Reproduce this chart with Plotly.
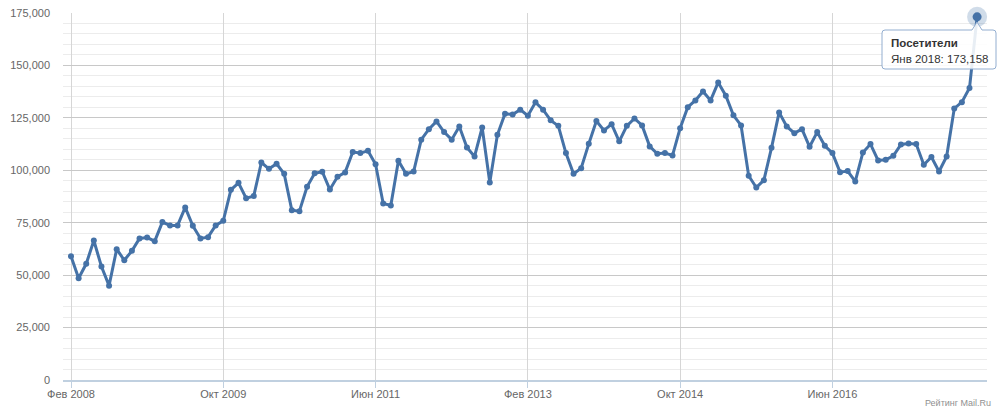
import plotly.graph_objects as go

# ---- data ----
month_names = ["Янв", "Фев", "Мар", "Апр", "Май", "Июн",
               "Июл", "Авг", "Сен", "Окт", "Ноя", "Дек"]
start_year, start_month = 2008, 2   # Feb 2008
n_months = 120                       # to Jan 2018

visitors = [
    59000, 48500, 55400, 66500, 54100, 45000, 62400, 57100, 61600, 67500,
    67900, 66200, 75300, 73700, 73700, 82300, 73500, 67500, 68100, 73700,
    75900, 90700, 94000, 86700, 87700, 103700, 100700, 103100, 98300, 81000,
    80500, 92100, 98600, 99300, 90800, 96900, 99000, 108700, 108200, 109300,
    102900, 84200, 83200, 104500, 98300, 99400, 114600, 119600, 123300, 118200,
    114600, 120900, 110900, 106600, 120400, 94200, 116900, 127000, 126600, 128900,
    126000, 132400, 128900, 123800, 121200, 108200, 98300, 101000, 112600, 123500,
    119000, 122000, 113800, 121200, 124700, 121400, 111400, 107900, 108200, 107100,
    120100, 130100, 133300, 137600, 133300, 141900, 135600, 126200, 121400, 97400,
    91800, 95300, 110700, 127600, 120900, 117700, 119600, 111200, 118200, 111700,
    108200, 99100, 99600, 94700, 108500, 112500, 104700, 105000, 106900, 112300,
    112800, 112500, 102600, 106300, 99400, 106600, 129500, 132500, 139200, 173158,
]

labels = []
for i in range(n_months):
    m = (start_month - 1 + i) % 12
    y = start_year + (start_month - 1 + i) // 12
    labels.append(f"{month_names[m]} {y}")

tick_every = 20
tick_labels = labels[::tick_every]
series_name = "Посетители"
hover_idx = len(visitors) - 1

# ---- figure ----
line_color = "#4572A7"
fig = go.Figure()

fig.add_trace(go.Scatter(
    x=labels, y=visitors, mode="lines+markers",
    line=dict(color=line_color, width=3),
    marker=dict(color=line_color, size=6),
    hoverinfo="skip", showlegend=False, cliponaxis=False,
))
# hovered point halo
fig.add_trace(go.Scatter(
    x=[labels[hover_idx]], y=[visitors[hover_idx]], mode="markers",
    marker=dict(color="rgba(69,114,167,0.25)", size=20),
    hoverinfo="skip", showlegend=False, cliponaxis=False,
))
fig.add_trace(go.Scatter(
    x=[labels[hover_idx]], y=[visitors[hover_idx]], mode="markers",
    marker=dict(color=line_color, size=9),
    hoverinfo="skip", showlegend=False, cliponaxis=False,
))

L, R, T, B = 63, 13, 13, 40
W, H = 1000, 420
pw, ph = W - L - R, H - T - B

def px(x):
    return (x - L) / pw

def py(y):
    return (H - B - y) / ph

# tooltip box with pointer
x0, x1, y0, y1 = 882, 996, 30, 69
r = 3
path = (
    f"M {px(x0 + r)},{py(y0)} "
    f"L {px(972)},{py(y0)} L {px(977)},{py(22)} L {px(982)},{py(y0)} "
    f"L {px(x1 - r)},{py(y0)} Q {px(x1)},{py(y0)} {px(x1)},{py(y0 + r)} "
    f"L {px(x1)},{py(y1 - r)} Q {px(x1)},{py(y1)} {px(x1 - r)},{py(y1)} "
    f"L {px(x0 + r)},{py(y1)} Q {px(x0)},{py(y1)} {px(x0)},{py(y1 - r)} "
    f"L {px(x0)},{py(y0 + r)} Q {px(x0)},{py(y0)} {px(x0 + r)},{py(y0)} Z"
)
fig.add_shape(type="path", path=path, xref="paper", yref="paper",
              fillcolor="rgba(255,255,255,0.88)",
              line=dict(color="#93aed0", width=1), layer="above")

tip_font = dict(family="Liberation Sans, Arial, sans-serif", size=11.5, color="#333333")
fig.add_annotation(
    xref="paper", yref="paper", x=px(889), y=py(43),
    xanchor="left", yanchor="middle", align="left", showarrow=False,
    text=f"<b>{series_name}</b>", font=tip_font,
)
fig.add_annotation(
    xref="paper", yref="paper", x=px(889), y=py(58.5),
    xanchor="left", yanchor="middle", align="left", showarrow=False,
    text=f"{labels[hover_idx]}: {visitors[hover_idx]:,}", font=tip_font,
)

fig.add_annotation(
    xref="paper", yref="paper", x=px(993), y=py(403),
    xanchor="right", yanchor="middle", showarrow=False,
    text="Рейтинг Mail.Ru",
    font=dict(family="Liberation Sans, Arial, sans-serif", size=9, color="#909090"),
)

fig.update_layout(
    width=W, height=H,
    margin=dict(l=L, r=R, t=T, b=B, autoexpand=False),
    paper_bgcolor="white", plot_bgcolor="white",
    font=dict(family="Liberation Sans, Arial, sans-serif", size=11, color="#666666"),
    xaxis=dict(
        type="category", range=[-1.05, 120.3],
        tickmode="array", tickvals=tick_labels, ticktext=tick_labels,
        showgrid=True, gridcolor="#d6d6d6", gridwidth=1,
        showline=True, linecolor="#C0D0E0", linewidth=2,
        ticks="outside", ticklen=6, tickcolor="#C0D0E0",
        ticklabelstandoff=-3,
        tickfont=dict(size=11, color="#666666"),
        zeroline=False, fixedrange=True, automargin=False,
    ),
    yaxis=dict(
        range=[0, 175000], dtick=25000, tick0=0,
        tickformat=",d",
        showgrid=True, gridcolor="#c8c8c8", gridwidth=1,
        minor=dict(dtick=5000, showgrid=True, gridcolor="#ececec", gridwidth=1),
        zeroline=False, showline=False, ticks="",
        ticklabelstandoff=12,
        tickfont=dict(size=11, color="#666666"),
        fixedrange=True, automargin=False,
    ),
)

fig.write_html("out.html", config={"displayModeBar": False},
               post_script="document.body.style.margin='0';")
